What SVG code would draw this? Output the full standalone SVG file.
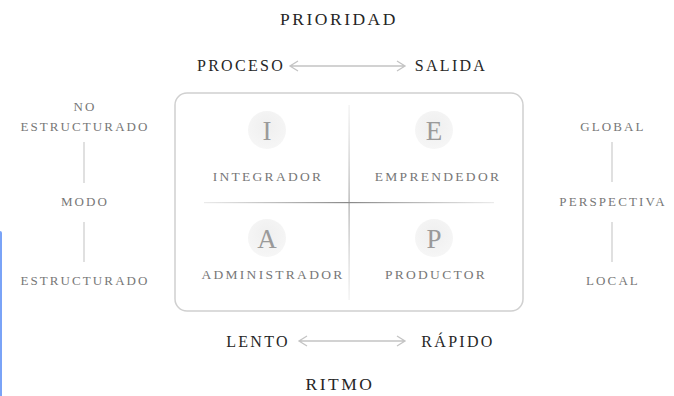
<svg xmlns="http://www.w3.org/2000/svg" width="674" height="396" viewBox="0 0 674 396" font-family="'Liberation Serif', 'DejaVu Serif', serif">
<defs>
<style>
text{font-family:'Liberation Serif','DejaVu Serif',serif;text-anchor:middle}
.title{font-size:17.5px;fill:#262626;letter-spacing:2.5px}
.axis{font-size:16px;fill:#262626;letter-spacing:2.3px}
.side{font-size:13px;fill:#777;letter-spacing:2.1px}
.quad{font-size:13.5px;fill:#777;letter-spacing:2.3px}
.letter{font-size:27px;fill:#9a9a9a}
.circ{fill:url(#cg)}
.vline{stroke:#ccc;stroke-width:1.2}
.arr{stroke:#c4c4c4;stroke-width:1.3;fill:none}
</style>
<radialGradient id="cg" cx="0.5" cy="0.4" r="0.6">
<stop offset="0" stop-color="#efefef"/>
<stop offset="1" stop-color="#f6f6f6"/>
</radialGradient>
<linearGradient id="hg" x1="0" x2="1" y1="0" y2="0">
<stop offset="0" stop-color="#999" stop-opacity="0.2"/>
<stop offset="0.5" stop-color="#888" stop-opacity="1"/>
<stop offset="1" stop-color="#999" stop-opacity="0.2"/>
</linearGradient>
<linearGradient id="vg" x1="0" x2="0" y1="0" y2="1">
<stop offset="0" stop-color="#bbb" stop-opacity="0.2"/>
<stop offset="0.5" stop-color="#aaa" stop-opacity="1"/>
<stop offset="1" stop-color="#bbb" stop-opacity="0.2"/>
</linearGradient>
</defs>
<rect x="-3" y="231" width="5" height="170" rx="2" fill="#7aa3f7"/>
<g id="titles">
<text class="title" x="339" y="25">PRIORIDAD</text>
<text class="title" x="340" y="390">RITMO</text>
</g>
<g id="axis-top">
<text class="axis" x="241" y="71">PROCESO</text>
<text class="axis" x="451" y="71">SALIDA</text>
</g>
<g id="axis-bottom">
<text class="axis" x="258" y="347">LENTO</text>
<text class="axis" x="458" y="347">RÁPIDO</text>
</g>
<g id="connectors">
<path class="arr" d="M290 66 H405 M298 61 L290 66 L298 71 M397 61 L405 66 L397 71"/>
<path class="arr" d="M299 341 H405 M307 336 L299 341 L307 346 M397 336 L405 341 L397 346"/>
<line class="vline" x1="84" y1="142" x2="84" y2="183"/>
<line class="vline" x1="84" y1="222" x2="84" y2="262"/>
<line class="vline" x1="612" y1="142" x2="612" y2="182"/>
<line class="vline" x1="612" y1="222" x2="612" y2="262"/>
</g>
<g id="modo">
<text class="side" x="85" y="111">NO</text>
<text class="side" x="85" y="131">ESTRUCTURADO</text>
<text class="side" x="85" y="206">MODO</text>
<text class="side" x="85" y="285">ESTRUCTURADO</text>
</g>
<g id="perspectiva">
<text class="side" x="613" y="131">GLOBAL</text>
<text class="side" x="613" y="206">PERSPECTIVA</text>
<text class="side" x="613" y="285">LOCAL</text>
</g>
<g id="matrix">
<rect x="175" y="93" width="348" height="218" rx="12" fill="#fff" stroke="#d0d0d0" stroke-width="1.5"/>
<rect x="348.5" y="105" width="1.2" height="195" fill="url(#vg)"/>
<rect x="204" y="202" width="290" height="1.2" fill="url(#hg)"/>
</g>
<g id="integrador">
<circle class="circ" cx="267" cy="130" r="19"/>
<text class="letter" x="267" y="139.5">I</text>
<text class="quad" x="268" y="181">INTEGRADOR</text>
</g>
<g id="emprendedor">
<circle class="circ" cx="434" cy="130" r="19"/>
<text class="letter" x="434" y="139.5">E</text>
<text class="quad" x="438" y="181">EMPRENDEDOR</text>
</g>
<g id="administrador">
<circle class="circ" cx="267" cy="238" r="19"/>
<text class="letter" x="267" y="247.5">A</text>
<text class="quad" x="273" y="279">ADMINISTRADOR</text>
</g>
<g id="productor">
<circle class="circ" cx="434" cy="238" r="19"/>
<text class="letter" x="434" y="247.5">P</text>
<text class="quad" x="436" y="279">PRODUCTOR</text>
</g>
</svg>
